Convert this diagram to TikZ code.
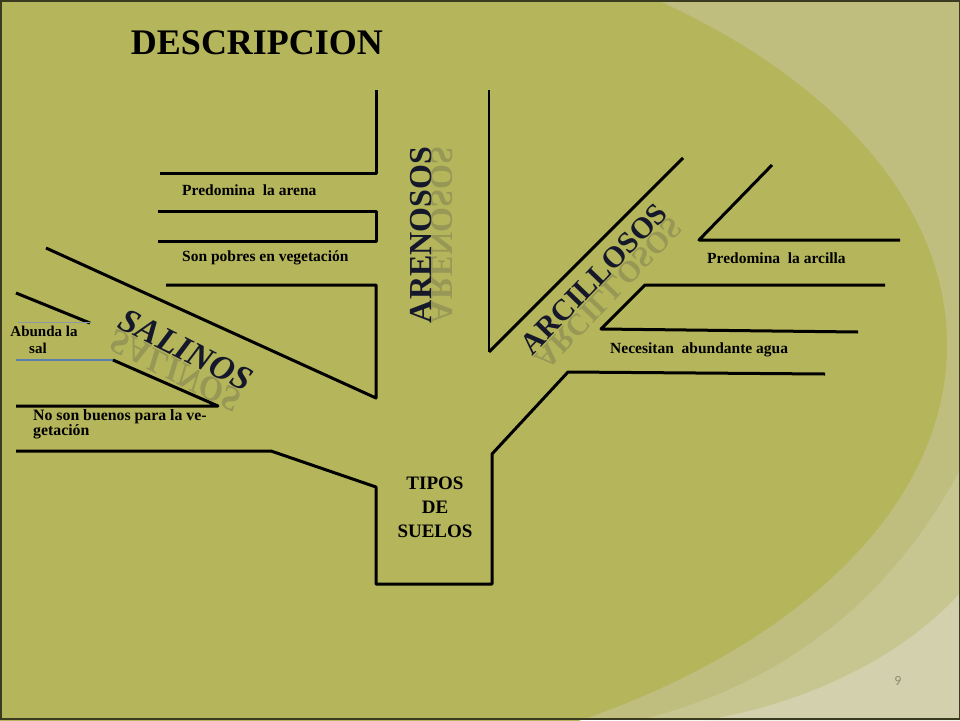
\documentclass[tikz,border=0pt]{standalone}
\usepackage{fontspec}
\setmainfont{Liberation Serif}
\newfontfamily\numfont{Carlito}
\usepackage{graphicx}
\definecolor{bgbase}{HTML}{C0BE7E}
\definecolor{bgdark}{HTML}{B5B55C}
\definecolor{bgmid}{HTML}{C8C690}
\definecolor{bgcream}{HTML}{D3D0AD}
\definecolor{framecol}{HTML}{3A3A20}
\definecolor{wordcol}{HTML}{15182A}
\definecolor{reflcol}{HTML}{55554A}
\definecolor{salblue}{HTML}{5A7FAE}
\definecolor{faintline}{HTML}{8C9AA8}
\definecolor{numcol}{HTML}{8E8C70}
\tikzset{
  bar/.style={line width=3pt, black, line join=round},
  thinbar/.style={line width=1.6pt, black},
  lbl/.style={font=\bfseries\fontsize{15.5}{17}\selectfont, inner sep=0pt, anchor=west},
  bigword/.style={font=\bfseries\fontsize{32}{34}\selectfont, text=wordcol, inner sep=0pt},
  reflword/.style={font=\bfseries\fontsize{32}{34}\selectfont, text=reflcol, opacity=0.3, inner sep=0pt},
}
\begin{document}
\begin{tikzpicture}[x=1pt,y=-1pt]
\useasboundingbox (0,0) rectangle (960,720);
% background
\fill[bgbase] (0,0) rectangle (960,720);
\fill[bgmid] (960,470) .. controls (880,620) and (760,690) .. (640,720) -- (960,720) -- cycle;
\fill[bgcream] (960,593) .. controls (900,660) and (800,705) .. (705,720) -- (960,720) -- cycle;
\fill[bgdark] (200,345) ellipse [x radius=747, y radius=436];
\draw[framecol, line width=1.5pt] (0.75,0.75) rectangle (959.25,719.25);
\draw[framecol, line width=2pt] (0,719) -- (960,719);

% title
\node[font=\bfseries\fontsize{36}{40}\selectfont, inner sep=0pt] (title) at (257,43) {DESCRIPCION};

% arenosos branch
\coordinate (a1) at (376,90);
\coordinate (a2) at (376,173);
\coordinate (a3) at (160,173);
\draw[bar] (a1) -- (a2) -- (a3);
\coordinate (b1) at (158,211);
\coordinate (b2) at (376,211);
\coordinate (b3) at (376,241);
\coordinate (b4) at (158,241);
\draw[bar] (b1) -- (b2) -- (b3) -- (b4);
\coordinate (c1) at (166,285);
\coordinate (c2) at (376,285);
\coordinate (c3) at (376,398);
\coordinate (c4) at (46,248);
\draw[bar] (c1) -- (c2) -- (c3) -- (c4);

% salinos branch
\coordinate (s1) at (16,293);
\coordinate (s2) at (90,323);
\draw[bar] (s1) -- (s2);
\coordinate (f1) at (18,322);
\coordinate (f2) at (90,322);
\draw[faintline, line width=0.8pt] (f1) -- (f2);
\coordinate (u1) at (16,360);
\coordinate (u2) at (113,360);
\draw[salblue, line width=2.5pt] (u1) -- (u2);
\coordinate (u3) at (218,406);
\coordinate (u4) at (16,406);
\draw[bar] (u2) -- (u3) -- (u4);

% trunk
\coordinate (t1) at (16,451);
\coordinate (t2) at (271,451);
\coordinate (t3) at (376,487);
\coordinate (t4) at (376,584);
\coordinate (t5) at (492,584);
\coordinate (t6) at (492,454);
\coordinate (t7) at (568,372);
\coordinate (t8) at (825,374);
\draw[bar] (t1) -- (t2) -- (t3) -- (t4) -- (t5) -- (t6) -- (t7) -- (t8);

% arcillosos branch
\coordinate (r1) at (489,90);
\coordinate (r2) at (489,352);
\coordinate (r3) at (683,158);
\draw[thinbar] (r1) -- (r2);
\draw[bar] (r2) -- (r3);
\coordinate (p1) at (772,165);
\coordinate (p2) at (699,240);
\coordinate (p3) at (900,240);
\draw[bar] (p1) -- (p2) -- (p3);
\coordinate (q1) at (885,285);
\coordinate (q2) at (645,285);
\coordinate (q3) at (601,329);
\coordinate (q4) at (858,332);
\draw[bar] (q1) -- (q2) -- (q3) -- (q4);

% labels
\node[lbl] (l1) at (182,190) {Predomina\ \ la arena};
\node[lbl] (l2) at (182,258) {Son pobres en vegetación};
\node[lbl] (l3) at (707,258) {Predomina\ \ la arcilla};
\node[lbl] (l4) at (610,350) {Necesitan\ \ abundante agua};
\node[font=\bfseries\fontsize{15}{17}\selectfont, inner sep=0pt, align=center] (l5) at (44,340) {Abunda la\\sal\hspace*{12pt}};
\node[font=\bfseries\fontsize{15.8}{15.5}\selectfont, inner sep=0pt, align=left, anchor=north west] (l6) at (33,409) {No son buenos para la ve-\\getación};
\node[font=\bfseries\fontsize{19}{24}\selectfont, inner sep=0pt, align=center] (tipos) at (435,507) {TIPOS\\DE\\SUELOS};

% big words
\node[bigword, rotate=90] (aren) at (421,235) {ARENOSOS};
\node[reflword, rotate=90, anchor=north] (arenr) at ([xshift=-1pt]aren.south) {\scalebox{1}[-1]{ARENOSOS}};
\node[bigword, font=\bfseries\fontsize{30}{32}\selectfont, rotate=46] (arci) at (594,279) {ARCILLOSOS};
\node[reflword, font=\bfseries\fontsize{30}{32}\selectfont, rotate=46, anchor=north] (arcir) at (arci.south) {\scalebox{1}[-1]{ARCILLOSOS}};
\node[bigword, font=\bfseries\itshape\fontsize{34}{36}\selectfont, rotate=-27] (sali) at (186,350) {SALINOS};
\node[reflword, font=\bfseries\itshape\fontsize{34}{36}\selectfont, rotate=-27, anchor=north] (salir) at (sali.south) {\scalebox{1}[-1]{SALINOS}};

% page number
\node[font=\numfont\fontsize{14}{16}\selectfont, text=numcol, inner sep=0pt] (num) at (898,681) {9};
\end{tikzpicture}
\end{document}
